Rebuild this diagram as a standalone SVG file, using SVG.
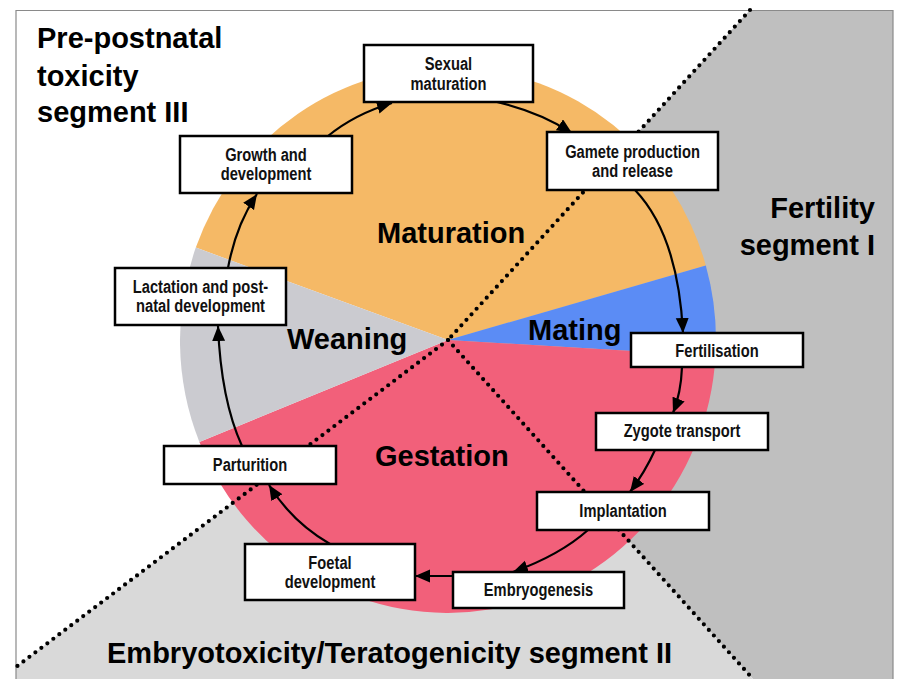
<svg xmlns="http://www.w3.org/2000/svg" width="897" height="679" viewBox="0 0 897 679">
<defs>
<style>
.frame{fill:none;stroke:#8a8a8a;stroke-width:1.2}
.dot{fill:none;stroke:#000;stroke-width:4.2;stroke-linecap:round;stroke-dasharray:0 7.5}
.box{fill:#fff;stroke:#000;stroke-width:2.5}
.bt{font-family:"Liberation Sans",Arial,sans-serif;font-weight:bold;font-size:17.5px;fill:#111;text-anchor:middle}
.big{font-family:"Liberation Sans",Arial,sans-serif;font-weight:bold;font-size:29px;fill:#000}
.arr{fill:none;stroke:#000;stroke-width:2.2}
</style>
<marker id="ah" markerUnits="userSpaceOnUse" markerWidth="17" markerHeight="14" refX="15" refY="6.5" orient="auto">
<path d="M0,0 L15,6.5 L0,13 Z" fill="#000"/>
</marker>
</defs>
<rect x="0" y="0" width="897" height="679" fill="#fff"/>
<g id="background">
<polygon points="750,10 893,10 893,679 753,679 448,340" fill="#bfbfbf"/>
<polygon points="448,340 753,679 16,679 16,667" fill="#d9d9d9"/>
<polyline class="frame" points="16,679 16,10.5 893,10.5 893,679"/>
</g>
<g id="pie">
<path d="M448,340 L195.8,247.6 A268,273 0 0 1 705.8,265.4 Z" fill="#f5b966"/>
<path d="M448,340 L705.8,265.4 A268,273 0 0 1 715.5,356 Z" fill="#5b8cf5"/>
<path d="M448,340 L715.5,356 A268,273 0 0 1 199.4,442 Z" fill="#f2607a"/>
<path d="M448,340 L199.4,442 A268,273 0 0 1 195.8,247.6 Z" fill="#cbcbd0"/>
</g>
<g id="dividers">
<line class="dot" x1="750" y1="10" x2="448" y2="340"/>
<line class="dot" x1="448" y1="340" x2="16" y2="667"/>
<line class="dot" x1="448" y1="340" x2="753" y2="679"/>
</g>
<g id="segment-labels">
<text class="big" x="37" y="48">Pre-postnatal</text>
<text class="big" x="37" y="86">toxicity</text>
<text class="big" x="37" y="122">segment III</text>
<text class="big" x="875" y="218" text-anchor="end">Fertility</text>
<text class="big" x="875" y="255" text-anchor="end">segment I</text>
<text class="big" x="107" y="663">Embryotoxicity/Teratogenicity segment II</text>
</g>
<g id="phase-labels">
<text class="big" x="377" y="243">Maturation</text>
<text class="big" x="287" y="349">Weaning</text>
<text class="big" x="528" y="340">Mating</text>
<text class="big" x="375" y="466">Gestation</text>
</g>
<g id="connectors">
<path class="arr" d="M228,268 Q236,225 257,194" marker-end="url(#ah)"/>
<path class="arr" d="M328,136 Q355,114 392,103" marker-end="url(#ah)"/>
<path class="arr" d="M497,102 Q540,112 572,133" marker-end="url(#ah)"/>
<path class="arr" d="M635,190 Q678,235 683,333" marker-end="url(#ah)"/>
<path class="arr" d="M682,367 Q681,393 673,413" marker-end="url(#ah)"/>
<path class="arr" d="M655,450 Q645,472 630,492" marker-end="url(#ah)"/>
<path class="arr" d="M588,530 Q560,555 513,572" marker-end="url(#ah)"/>
<path class="arr" d="M453,576 L415,576" marker-end="url(#ah)"/>
<path class="arr" d="M330,544 Q292,522 269,485" marker-end="url(#ah)"/>
<path class="arr" d="M242,446 Q221,400 218,326" marker-end="url(#ah)"/>
</g>
<g id="n-sexual">
<rect class="box" x="364" y="45" width="169" height="57"/>
<text class="bt" transform="translate(448.5 70) scale(0.84 1)">Sexual</text>
<text class="bt" transform="translate(448.5 90) scale(0.84 1)">maturation</text>
</g>
<g id="n-gamete">
<rect class="box" x="547" y="132" width="171" height="58"/>
<text class="bt" transform="translate(632.5 158) scale(0.84 1)">Gamete production</text>
<text class="bt" transform="translate(632.5 177) scale(0.84 1)">and release</text>
</g>
<g id="n-growth">
<rect class="box" x="180" y="136" width="172" height="57"/>
<text class="bt" transform="translate(266 161) scale(0.84 1)">Growth and</text>
<text class="bt" transform="translate(266 180) scale(0.84 1)">development</text>
</g>
<g id="n-lactation">
<rect class="box" x="115" y="268" width="171" height="57"/>
<text class="bt" transform="translate(200.5 293) scale(0.84 1)">Lactation and post-</text>
<text class="bt" transform="translate(200.5 312) scale(0.84 1)">natal development</text>
</g>
<g id="n-fertilisation">
<rect class="box" x="631" y="333" width="172" height="34"/>
<text class="bt" transform="translate(717 357) scale(0.84 1)">Fertilisation</text>
</g>
<g id="n-zygote">
<rect class="box" x="596" y="413" width="172" height="37"/>
<text class="bt" transform="translate(682 437) scale(0.84 1)">Zygote transport</text>
</g>
<g id="n-implantation">
<rect class="box" x="537" y="492" width="172" height="38"/>
<text class="bt" transform="translate(623 517) scale(0.84 1)">Implantation</text>
</g>
<g id="n-embryogenesis">
<rect class="box" x="453" y="572" width="171" height="36"/>
<text class="bt" transform="translate(538.5 596) scale(0.84 1)">Embryogenesis</text>
</g>
<g id="n-foetal">
<rect class="box" x="245" y="544" width="170" height="56"/>
<text class="bt" transform="translate(330 569) scale(0.84 1)">Foetal</text>
<text class="bt" transform="translate(330 588) scale(0.84 1)">development</text>
</g>
<g id="n-parturition">
<rect class="box" x="164" y="446" width="172" height="38"/>
<text class="bt" transform="translate(250 471) scale(0.84 1)">Parturition</text>
</g>
</svg>
